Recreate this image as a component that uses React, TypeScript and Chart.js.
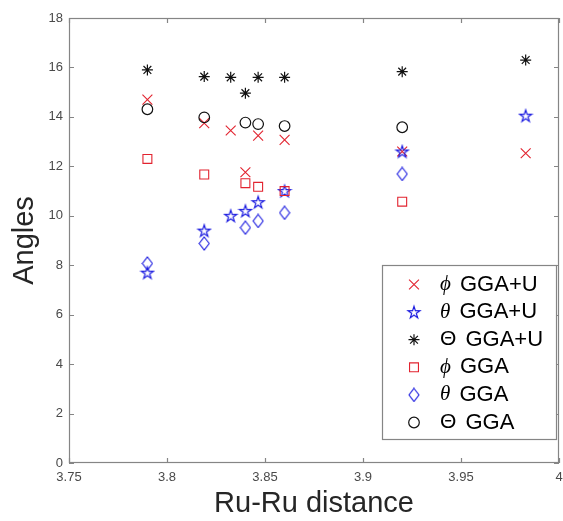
import React, { useEffect, useRef } from 'react';
import { Chart, registerables } from 'chart.js';
import { drawPoint } from 'chart.js/helpers';

Chart.register(...registerables);

// ---------- data ----------
const xGGAU = [3.79, 3.819, 3.8325, 3.84, 3.8465, 3.86, 3.92, 3.983];
const phiGGAU = [14.7, 13.75, 13.45, 11.76, 13.24, 13.07, 12.6, 12.53];
const thetaGGAU = [7.7, 9.4, 10.0, 10.2, 10.55, 11.0, 12.6, 14.05];
const bigThetaGGAU = [15.9, 15.63, 15.6, 14.96, 15.6, 15.6, 15.83, 16.3];

const xGGA = [3.79, 3.819, 3.84, 3.8465, 3.86, 3.92];
const phiGGA = [12.3, 11.67, 11.32, 11.17, 11.0, 10.57];
const thetaGGA = [8.07, 8.88, 9.52, 9.79, 10.12, 11.69];
const bigThetaGGA = [14.31, 13.98, 13.77, 13.71, 13.63, 13.58];

const xTicks = [3.75, 3.8, 3.85, 3.9, 3.95, 4];
const yTicks = [0, 2, 4, 6, 8, 10, 12, 14, 16, 18];
const seriesLabels = ['ϕ GGA+U', 'θ GGA+U', 'Θ GGA+U', 'ϕ GGA', 'θ GGA', 'Θ GGA'];
const xTitle = 'Ru-Ru distance';
const yTitle = 'Angles';

const RED = '#e2232f';
const BLUE = '#1c1ce0';
const BLACK = '#111111';
const SANS = "'Liberation Sans', Arial, Helvetica, sans-serif";

function makePentagram(color: string): HTMLCanvasElement {
  const s = 16;
  const c = document.createElement('canvas');
  c.width = s;
  c.height = s;
  const ctx = c.getContext('2d')!;
  const R = 6.3;
  const r = R * 0.382;
  ctx.beginPath();
  for (let i = 0; i < 10; i++) {
    const a = -Math.PI / 2 + (i * Math.PI) / 5;
    const rad = i % 2 ? r : R;
    const px = s / 2 + rad * Math.cos(a);
    const py = s / 2 + 0.6 + rad * Math.sin(a);
    if (i === 0) ctx.moveTo(px, py);
    else ctx.lineTo(px, py);
  }
  ctx.closePath();
  ctx.strokeStyle = color;
  ctx.lineWidth = 1.2;
  ctx.stroke();
  return c;
}

function makeDiamond(color: string): HTMLCanvasElement {
  const c = document.createElement('canvas');
  c.width = 12;
  c.height = 15;
  const ctx = c.getContext('2d')!;
  ctx.beginPath();
  ctx.moveTo(6, 1);
  ctx.lineTo(11, 7.5);
  ctx.lineTo(6, 14);
  ctx.lineTo(1, 7.5);
  ctx.closePath();
  ctx.strokeStyle = color;
  ctx.lineWidth = 1.1;
  ctx.stroke();
  return c;
}

const toPoints = (xs: number[], ys: number[]) => xs.map((x, i) => ({ x, y: ys[i] }));

const framePlugin = {
  id: 'matlabFrame',
  afterDatasetsDraw(chart: any) {
    const { ctx, chartArea } = chart;
    const { left, right, top, bottom } = chartArea;
    const xs = chart.scales.x;
    const ys = chart.scales.y;
    const tl = 5;
    ctx.save();
    ctx.strokeStyle = '#858585';
    ctx.lineWidth = 1.2;
    ctx.strokeRect(left + 0.5, top + 0.5, right - left - 1, bottom - top - 1);
    ctx.beginPath();
    xs.ticks.forEach((t: any) => {
      const p = Math.round(xs.getPixelForValue(t.value)) + 0.5;
      ctx.moveTo(p, bottom);
      ctx.lineTo(p, bottom - tl);
      ctx.moveTo(p, top);
      ctx.lineTo(p, top + tl);
    });
    ys.ticks.forEach((t: any) => {
      const p = Math.round(ys.getPixelForValue(t.value)) + 0.5;
      ctx.moveTo(left, p);
      ctx.lineTo(left + tl, p);
      ctx.moveTo(right, p);
      ctx.lineTo(right - tl, p);
    });
    ctx.stroke();
    ctx.restore();
  },
};

const legendPlugin = {
  id: 'matlabLegend',
  afterDraw(chart: any) {
    const { ctx, chartArea } = chart;
    const w = 174;
    const h = 174;
    const right = chartArea.right - 3;
    const bottom = chartArea.bottom - 24;
    const left = right - w;
    const top = bottom - h;
    ctx.save();
    ctx.fillStyle = '#ffffff';
    ctx.fillRect(left, top, w, h);
    ctx.strokeStyle = '#858585';
    ctx.lineWidth = 1.2;
    ctx.strokeRect(left + 0.5, top + 0.5, w, h);
    const step = 27.6;
    chart.data.datasets.forEach((ds: any, i: number) => {
      const y = top + 19.5 + i * step;
      const mx = left + 32;
      ctx.save();
      ctx.strokeStyle = ds.pointBorderColor;
      ctx.fillStyle = 'rgba(0,0,0,0)';
      ctx.lineWidth = ds.pointBorderWidth;
      drawPoint(ctx, { pointStyle: ds.pointStyle, radius: ds.pointRadius, borderWidth: ds.pointBorderWidth, rotation: 0 } as any, mx, y);
      ctx.restore();
      const label: string = ds.label;
      const sym = label[0];
      const rest = label.slice(1);
      const sx = left + 58;
      ctx.fillStyle = '#000000';
      ctx.textBaseline = 'middle';
      ctx.textAlign = 'left';
      ctx.font = sym === 'Θ' ? `21px ${SANS}` : `italic 21px 'Liberation Serif', 'DejaVu Serif', serif`;
      ctx.fillText(sym, sx, y);
      const sw = ctx.measureText(sym).width;
      ctx.font = `22px ${SANS}`;
      ctx.fillText(rest, sx + sw + 3, y);
    });
    ctx.restore();
  },
};

export default function App() {
  const ref = useRef<HTMLCanvasElement | null>(null);
  useEffect(() => {
    const canvas = ref.current;
    if (!canvas) return;
    Chart.defaults.font.family = SANS;
    const star = makePentagram(BLUE);
    const diamond = makeDiamond(BLUE);
    const chart = new Chart(canvas, {
      type: 'scatter',
      data: {
        datasets: [
          { label: seriesLabels[0], data: toPoints(xGGAU, phiGGAU), pointStyle: 'crossRot', pointRadius: 7, pointBorderWidth: 1.1, pointBorderColor: RED, pointBackgroundColor: 'rgba(0,0,0,0)', order: 6 },
          { label: seriesLabels[1], data: toPoints(xGGAU, thetaGGAU), pointStyle: star, pointRadius: 6, pointBorderWidth: 1.2, pointBorderColor: BLUE, pointBackgroundColor: 'rgba(0,0,0,0)', order: 5 },
          { label: seriesLabels[2], data: toPoints(xGGAU, bigThetaGGAU), pointStyle: 'star', pointRadius: 5.5, pointBorderWidth: 1.2, pointBorderColor: BLACK, pointBackgroundColor: 'rgba(0,0,0,0)', order: 4 },
          { label: seriesLabels[3], data: toPoints(xGGA, phiGGA), pointStyle: 'rect', pointRadius: 6.3, pointBorderWidth: 1.1, pointBorderColor: RED, pointBackgroundColor: 'rgba(0,0,0,0)', order: 3 },
          { label: seriesLabels[4], data: toPoints(xGGA, thetaGGA), pointStyle: diamond, pointRadius: 6, pointBorderWidth: 1.1, pointBorderColor: BLUE, pointBackgroundColor: 'rgba(0,0,0,0)', order: 2 },
          { label: seriesLabels[5], data: toPoints(xGGA, bigThetaGGA), pointStyle: 'circle', pointRadius: 5.3, pointBorderWidth: 1.2, pointBorderColor: BLACK, pointBackgroundColor: 'rgba(0,0,0,0)', order: 1 },
        ] as any,
      },
      options: {
        animation: false,
        responsive: false,
        maintainAspectRatio: false,
        layout: { autoPadding: false, padding: { left: 0, top: 18, right: 4, bottom: 0 } },
        plugins: { legend: { display: false }, tooltip: { enabled: false } },
        elements: { point: { hoverRadius: 6 } },
        scales: {
          x: {
            type: 'linear',
            min: 3.75,
            max: 4,
            afterBuildTicks: (s: any) => {
              s.ticks = xTicks.map((v) => ({ value: v }));
            },
            afterFit: (s: any) => {
              s.height = 58;
              s.paddingLeft = 0;
              s.paddingRight = 0;
            },
            grid: { display: false, drawTicks: false },
            border: { display: false },
            ticks: {
              padding: 7,
              color: '#4a4a4a',
              font: { size: 13 },
              maxRotation: 0,
              callback: (v: any) => String(Number(Number(v).toFixed(2))),
            },
            title: { display: true, text: xTitle, color: '#262626', font: { size: 29 }, padding: { top: 0, bottom: 0 } },
          },
          y: {
            type: 'linear',
            min: 0,
            max: 18,
            afterBuildTicks: (s: any) => {
              s.ticks = yTicks.map((v) => ({ value: v }));
            },
            afterFit: (s: any) => {
              s.width = 69;
              s.paddingTop = 0;
              s.paddingBottom = 0;
            },
            grid: { display: false, drawTicks: false },
            border: { display: false },
            ticks: { padding: 6, color: '#4a4a4a', font: { size: 13 }, callback: (v: any) => String(v) },
            title: { display: true, text: yTitle, color: '#262626', font: { size: 29 }, padding: { top: 8, bottom: 0 } },
          },
        },
      },
      plugins: [framePlugin, legendPlugin],
    } as any);
    return () => chart.destroy();
  }, []);
  return (
    <div style={{ position: 'fixed', left: 0, top: 0, width: 563, height: 521, background: '#ffffff' }}>
      <canvas ref={ref} width={563} height={521} style={{ display: 'block' }} />
    </div>
  );
}
